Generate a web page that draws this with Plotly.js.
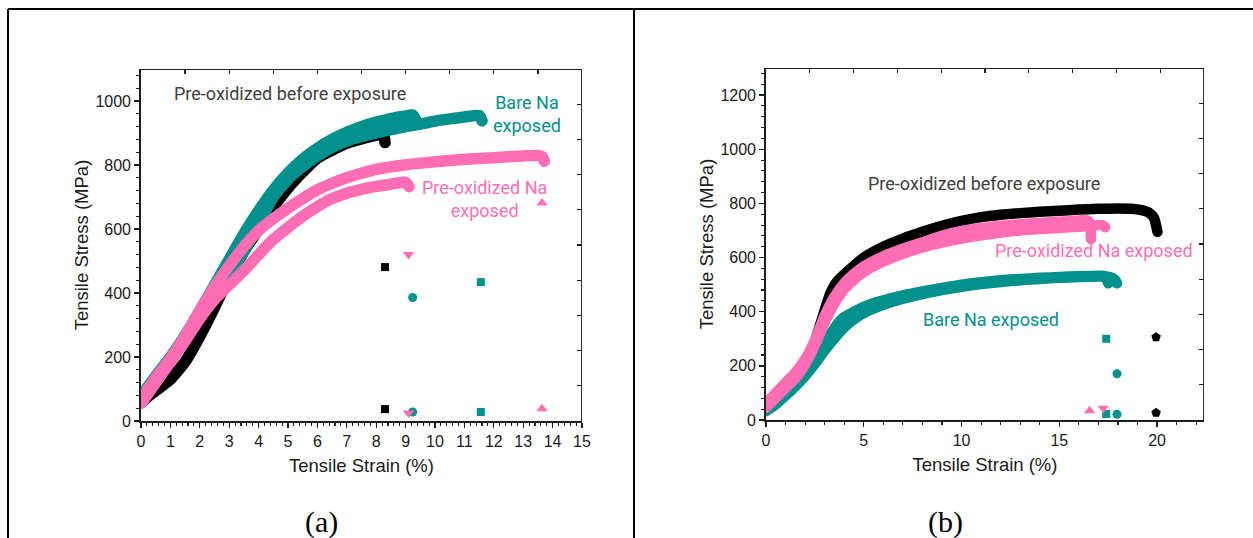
<!DOCTYPE html>
<html>
<head>
<meta charset="utf-8">
<script src="https://cdn.plot.ly/plotly-3.0.1.min.js"></script>
<style>
  html, body { margin: 0; padding: 0; background: #ffffff; }
  #chart { width: 1253px; height: 538px; }
  /* thick curves: rounded joins and ends, like a dense run of markers */
  #chart path.js-line { stroke-linejoin: round; stroke-linecap: round; }
</style>
</head>
<body>
<div id="chart"></div>
<script>
// ---------- Panel (a): stress-strain curves ----------
const aBlackStrain = [0, 0.5, 1, 1.5, 2, 2.5, 3, 3.5, 4, 4.5, 5, 5.5, 6, 7, 8, 8.25, 8.3];
const aBlackStress = [58, 95, 130, 185, 265, 355, 450, 530, 600, 668, 728, 778, 822, 868, 893, 898, 870];

const aTealCircStrain = [0, 0.5, 1, 1.5, 2, 2.5, 3, 3.5, 4, 4.5, 5, 5.5, 6, 6.5, 7, 7.5, 8, 8.5, 9, 9.25, 9.35];
const aTealCircStress = [78, 140, 200, 268, 345, 425, 505, 585, 657, 722, 775, 818, 852, 880, 902, 920, 934, 945, 953, 956, 940];

const aTealSqStrain = [0, 0.5, 1, 1.5, 2, 2.5, 3, 3.5, 4, 4.5, 5, 5.5, 6, 6.5, 7, 8, 9, 9.5, 10, 10.5, 11, 11.5, 11.6];
const aTealSqStress = [70, 130, 190, 255, 330, 400, 460, 530, 615, 700, 755, 795, 828, 855, 875, 900, 920, 928, 937, 944, 950, 955, 938];

const aPinkUpStrain = [0, 0.5, 1, 1.5, 2, 2.5, 3, 3.5, 4, 4.5, 5, 5.5, 6, 6.5, 7, 7.5, 8, 9, 10, 11, 12, 13, 13.5, 13.65, 13.72];
const aPinkUpStress = [70, 135, 195, 265, 345, 420, 485, 545, 595, 632, 665, 695, 722, 743, 760, 774, 786, 801, 810, 818, 823, 828, 830, 826, 812];

const aPinkDnStrain = [0, 0.5, 1, 1.5, 2, 2.5, 3, 3.5, 4, 4.5, 5, 5.5, 6, 6.5, 7, 7.5, 8, 8.5, 9, 9.12];
const aPinkDnStress = [55, 120, 185, 250, 320, 380, 425, 470, 520, 567, 605, 640, 670, 695, 712, 724, 733, 740, 746, 732];

// fracture points after each break (panel a)
const aBlackDropStrain = [8.3, 8.3];
const aBlackDropStress = [481, 37];
const aTealCircDropStrain = [9.24, 9.24];
const aTealCircDropStress = [386, 28];
const aTealSqDropStrain = [11.56, 11.56];
const aTealSqDropStress = [434, 28];
const aPinkUpDropStrain = [13.64, 13.64];
const aPinkUpDropStress = [681, 38];
const aPinkDnDropStrain = [9.1, 9.1];
const aPinkDnDropStress = [520, 25];

// ---------- Panel (b): stress-strain curves ----------
const bBlackStrain = [0, 0.5, 1, 1.5, 2, 2.5, 3, 3.3, 3.6, 4, 4.5, 5, 6, 7, 8, 9, 10, 11, 12, 13, 14, 15, 16, 17, 18, 18.7, 19.2, 19.6, 19.85, 20.02];
const bBlackStress = [40, 72, 108, 155, 212, 290, 405, 470, 508, 538, 570, 600, 640, 670, 695, 717, 735, 749, 758, 764, 769, 773, 777, 780, 781, 780, 775, 765, 745, 695];

const bTealSqStrain = [0, 0.5, 1, 1.5, 2, 2.5, 3, 3.5, 3.9, 4.5, 5, 6, 7, 8, 9, 10, 11, 12, 13, 14, 15, 16, 17, 17.3, 17.45, 17.5];
const bTealSqStress = [38, 65, 98, 135, 175, 225, 282, 340, 375, 400, 418, 442, 460, 475, 488, 500, 509, 516, 521, 525, 528, 531, 533, 532, 515, 505];

const bTealCircStrain = [0, 0.5, 1, 1.5, 2, 2.5, 3, 3.5, 4, 4.5, 5, 6, 7, 8, 9, 10, 11, 12, 13, 14, 15, 16, 17, 17.6, 17.85, 17.95];
const bTealCircStress = [33, 58, 90, 124, 162, 207, 257, 302, 342, 372, 395, 425, 448, 465, 480, 492, 502, 510, 516, 521, 525, 528, 530, 528, 518, 505];

const bPinkUpStrain = [0, 0.5, 1, 1.5, 2, 2.5, 3, 3.5, 4, 4.5, 5, 6, 7, 8, 9, 10, 11, 12, 13, 14, 15, 16, 16.4, 16.55, 16.6, 16.62];
const bPinkUpStress = [62, 100, 138, 175, 225, 295, 385, 455, 505, 540, 567, 605, 633, 656, 680, 698, 709, 717, 723, 728, 732, 737, 738, 730, 700, 668];

const bPinkDnStrain = [0, 0.5, 1, 1.5, 2, 2.5, 3, 3.5, 4, 4.5, 5, 6, 7, 8, 9, 10, 11, 12, 13, 14, 15, 16, 16.8, 17.2, 17.35];
const bPinkDnStress = [45, 82, 118, 155, 205, 275, 360, 430, 482, 518, 546, 585, 614, 637, 655, 670, 682, 692, 700, 705, 709, 714, 718, 720, 712];

// fracture points after each break (panel b)
const bBlackDropStrain = [19.95, 19.95];
const bBlackDropStress = [306, 27];
const bTealSqDropStrain = [17.4, 17.4];
const bTealSqDropStress = [300, 22];
const bTealCircDropStrain = [17.95, 17.95];
const bTealCircDropStress = [171, 21];
const bPinkUpDropStrain = [16.55];
const bPinkUpDropStress = [34];
const bPinkDnDropStrain = [17.25];
const bPinkDnDropStress = [43];

// ---------- styling ----------
const BLACK = '#000000';
const TEAL = '#00918d';
const PINK = '#ff6eb4';
const AXIS = '#1e1e1e';

const rangeAx = [0, 15], rangeAy = [0, 1100];
const rangeBx = [0, 22.4], rangeBy = [0, 1300];

function curve(x, y, color, xa, ya, w) {
  return {
    type: 'scatter', mode: 'lines', x: x, y: y, xaxis: xa, yaxis: ya,
    line: { color: color, width: w, shape: 'spline', smoothing: 0.5 },
    hoverinfo: 'skip', showlegend: false
  };
}
function drops(x, y, color, symbol, size, xa, ya) {
  return {
    type: 'scatter', mode: 'markers', x: x, y: y, xaxis: xa, yaxis: ya,
    marker: { color: color, symbol: symbol, size: size, line: { width: 0 } },
    hoverinfo: 'skip', showlegend: false
  };
}
// draws nothing; only attaches the top / right tick rows to a panel
function frameHolder(xa, ya, xr, yr) {
  return { type: 'scatter', mode: 'none', x: [xr[0]], y: [yr[0]], xaxis: xa, yaxis: ya, hoverinfo: 'skip', showlegend: false };
}
// top and right edges of a panel's box, traced along the axis range corners
function frameEdge(xa, ya, xr, yr) {
  return {
    type: 'scatter', mode: 'lines', xaxis: xa, yaxis: ya, cliponaxis: false,
    x: [xr[0], xr[1], xr[1]], y: [yr[1], yr[1], yr[0]],
    line: { color: AXIS, width: 1.8, shape: 'linear' },
    hoverinfo: 'skip', showlegend: false
  };
}

const WA = 11.5, WB = 10.5;
const traces = [
  curve(aBlackStrain, aBlackStress, BLACK, 'x', 'y', WA),
  curve(aTealSqStrain, aTealSqStress, TEAL, 'x', 'y', WA),
  curve(aTealCircStrain, aTealCircStress, TEAL, 'x', 'y', WA),
  curve(aPinkDnStrain, aPinkDnStress, PINK, 'x', 'y', WA),
  curve(aPinkUpStrain, aPinkUpStress, PINK, 'x', 'y', WA),
  drops(aBlackDropStrain, aBlackDropStress, BLACK, 'square', 8, 'x', 'y'),
  drops(aTealCircDropStrain, aTealCircDropStress, TEAL, 'circle', 9, 'x', 'y'),
  drops(aTealSqDropStrain, aTealSqDropStress, TEAL, 'square', 8, 'x', 'y'),
  drops(aPinkUpDropStrain, aPinkUpDropStress, PINK, 'triangle-up', 10, 'x', 'y'),
  drops(aPinkDnDropStrain, aPinkDnDropStress, PINK, 'triangle-down', 10, 'x', 'y'),
  frameEdge('x', 'y', rangeAx, rangeAy),

  curve(bBlackStrain, bBlackStress, BLACK, 'x2', 'y2', WB),
  curve(bTealCircStrain, bTealCircStress, TEAL, 'x2', 'y2', WB),
  curve(bTealSqStrain, bTealSqStress, TEAL, 'x2', 'y2', WB),
  curve(bPinkDnStrain, bPinkDnStress, PINK, 'x2', 'y2', WB),
  curve(bPinkUpStrain, bPinkUpStress, PINK, 'x2', 'y2', WB),
  drops(bBlackDropStrain, bBlackDropStress, BLACK, 'pentagon', 10, 'x2', 'y2'),
  drops(bTealSqDropStrain, bTealSqDropStress, TEAL, 'square', 8, 'x2', 'y2'),
  drops(bTealCircDropStrain, bTealCircDropStress, TEAL, 'circle', 9, 'x2', 'y2'),
  drops(bPinkUpDropStrain, bPinkUpDropStress, PINK, 'triangle-up', 10, 'x2', 'y2'),
  drops(bPinkDnDropStrain, bPinkDnDropStress, PINK, 'triangle-down', 10, 'x2', 'y2'),
  frameEdge('x2', 'y2', rangeBx, rangeBy),

  frameHolder('x3', 'y', rangeAx, rangeAy), frameHolder('x', 'y3', rangeAx, rangeAy),
  frameHolder('x4', 'y2', rangeBx, rangeBy), frameHolder('x2', 'y4', rangeBx, rangeBy)
];

const W = 1253, H = 538;
const tickFont = { family: 'Liberation Sans, Arial, sans-serif', size: 16, color: '#1a1a1a' };
const titleFont = { family: 'Liberation Sans, Arial, sans-serif', size: 18.5, color: '#1a1a1a' };

function mainX(domain, range, dtick, minorDtick, anchor) {
  return {
    domain: domain, range: range, anchor: anchor, tick0: 0, dtick: dtick,
    ticks: 'outside', ticklen: 5, tickwidth: 1.3, tickcolor: AXIS,
    minor: { dtick: minorDtick, tick0: 0, ticks: 'outside', ticklen: 3, tickwidth: 1.1, tickcolor: AXIS, showgrid: false },
    showline: true, linecolor: AXIS, linewidth: 1.8, showgrid: false, zeroline: false,
    tickfont: tickFont, fixedrange: true,
    title: { text: 'Tensile Strain (%)', font: titleFont, standoff: 10 }
  };
}
function mainY(domain, range, anchor, standoff) {
  return {
    domain: domain, range: range, anchor: anchor, tick0: 0, dtick: 200,
    ticks: 'outside', ticklen: 5, tickwidth: 1.3, tickcolor: AXIS,
    minor: { dtick: 40, tick0: 0, ticks: 'outside', ticklen: 3, tickwidth: 1.1, tickcolor: AXIS, showgrid: false },
    showline: true, linecolor: AXIS, linewidth: 1.8, showgrid: false, zeroline: false,
    tickfont: tickFont, fixedrange: true,
    title: { text: 'Tensile Stress (MPa)', font: titleFont, standoff: standoff }
  };
}
function frameX(overlay, range, dtick, anchor) {
  return {
    overlaying: overlay, side: 'top', anchor: anchor, range: range, tick0: 0, dtick: dtick,
    ticks: 'inside', ticklen: 5, tickwidth: 1.3, tickcolor: AXIS, showticklabels: false,
    showline: false, showgrid: false, zeroline: false, fixedrange: true
  };
}
function frameY(overlay, range, dtick, anchor) {
  return {
    overlaying: overlay, side: 'right', anchor: anchor, range: range, tick0: 0, dtick: dtick,
    ticks: 'inside', ticklen: 5, tickwidth: 1.3, tickcolor: AXIS, showticklabels: false,
    showline: false, showgrid: false, zeroline: false, fixedrange: true
  };
}

const domAx = [141 / W, 582 / W];
const domAy = [(H - 421) / H, (H - 69) / H];
const domBx = [766 / W, 1204 / W];
const domBy = [(H - 420) / H, (H - 68) / H];

function paperLine(x0, x1, y0, y1, color, width) {
  return { type: 'line', xref: 'paper', yref: 'paper', x0: x0, x1: x1, y0: y0, y1: y1, line: { color: color, width: width } };
}

const noteFont = (c) => ({ family: 'Roboto, sans-serif', size: 18, color: c });
const capFont = { family: 'Liberation Serif, Times New Roman, serif', size: 30, color: '#000000' };

const layout = {
  width: W, height: H,
  margin: { l: 0, r: 0, t: 0, b: 0 },
  paper_bgcolor: '#ffffff', plot_bgcolor: 'rgba(0,0,0,0)',
  showlegend: false,
  xaxis: mainX(domAx, rangeAx, 1, 0.2, 'y'),
  yaxis: mainY(domAy, rangeAy, 'x', 2),
  xaxis2: mainX(domBx, rangeBx, 5, 1, 'y2'),
  yaxis2: mainY(domBy, rangeBy, 'x2', 2),
  xaxis3: frameX('x', rangeAx, 1.5, 'y'),
  yaxis3: frameY('y', rangeAy, 110, 'x'),
  xaxis4: frameX('x2', rangeBx, 2.24, 'y2'),
  yaxis4: frameY('y2', rangeBy, 130, 'x2'),
  annotations: [
    { xref: 'x', yref: 'y', x: 5.07, y: 1023, text: 'Pre-oxidized before exposure', showarrow: false, font: noteFont('#404040') },
    { xref: 'x', yref: 'y', x: 13.13, y: 959, text: 'Bare Na<br>exposed', showarrow: false, font: noteFont(TEAL) },
    { xref: 'x', yref: 'y', x: 11.67, y: 693, text: 'Pre-oxidized Na<br>exposed', showarrow: false, font: noteFont(PINK) },
    { xref: 'x2', yref: 'y2', x: 11.17, y: 875, text: 'Pre-oxidized before exposure', showarrow: false, font: noteFont('#404040') },
    { xref: 'x2', yref: 'y2', x: 16.79, y: 627, text: 'Pre-oxidized Na exposed', showarrow: false, font: noteFont(PINK) },
    { xref: 'x2', yref: 'y2', x: 11.53, y: 371, text: 'Bare Na exposed', showarrow: false, font: noteFont(TEAL) },
    { xref: 'paper', yref: 'paper', x: 321 / W, y: (H - 522) / H, xanchor: 'center', yanchor: 'middle',
      text: '(a)', showarrow: false, font: capFont },
    { xref: 'paper', yref: 'paper', x: 945 / W, y: (H - 522) / H, xanchor: 'center', yanchor: 'middle',
      text: '(b)', showarrow: false, font: capFont }
  ],
  shapes: [
    // outer table borders around the two panels
    paperLine(8 / W, 1, (H - 9) / H, (H - 9) / H, '#000000', 2),
    paperLine(8 / W, 8 / W, 0, (H - 9) / H, '#000000', 2),
    paperLine(634 / W, 634 / W, 0, (H - 9) / H, '#000000', 2)
  ]
};

Plotly.newPlot('chart', traces, layout, { displayModeBar: false, staticPlot: true });
</script>
</body>
</html>
